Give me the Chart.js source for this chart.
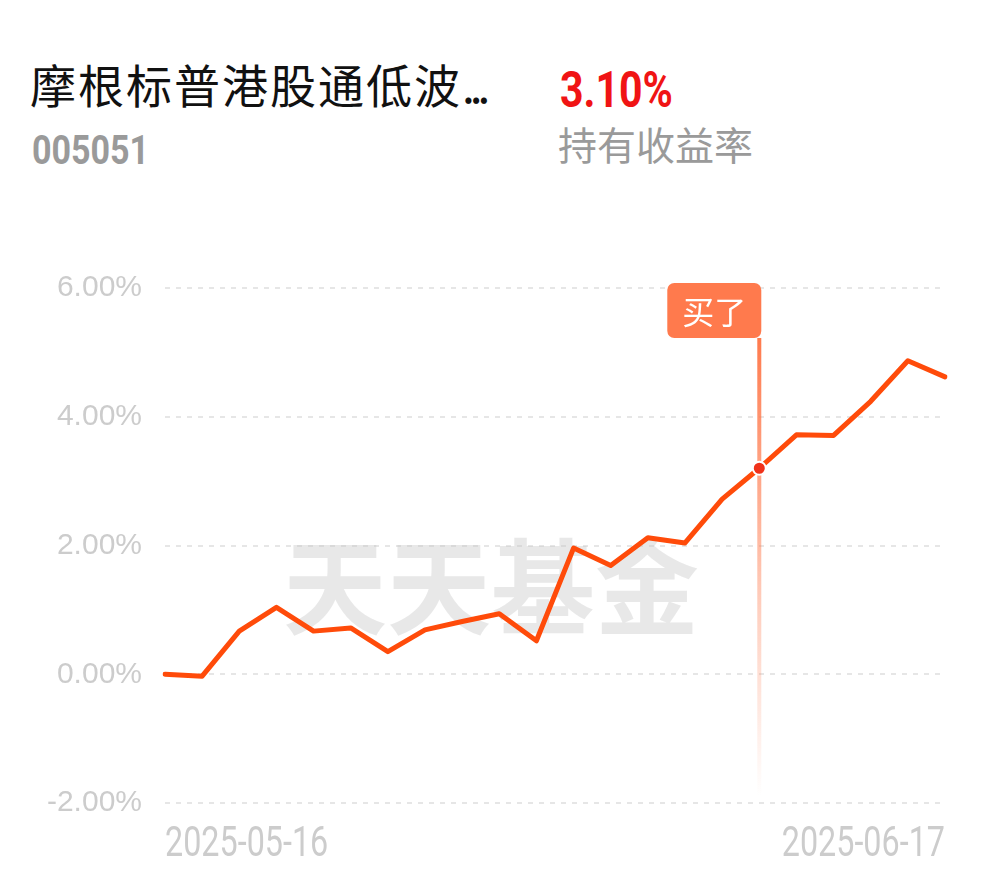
<!DOCTYPE html>
<html>
<head>
<meta charset="utf-8">
<script src="https://cdn.jsdelivr.net/npm/chart.js@4.4.1/dist/chart.umd.min.js"></script>
<style>
  html, body { margin: 0; padding: 0; background: #fff; }
  body { width: 990px; height: 878px; position: relative; overflow: hidden; }
  .t { position: absolute; white-space: nowrap; line-height: 1; transform-origin: 0 0; }
  #name { left: 30px; top: 50px; font: 400 46px 'Noto Sans CJK SC', sans-serif; color: #111; letter-spacing: 2px; }
  #name .dots { letter-spacing: -5px; }
  #ret { left: 560px; top: 61px; font: 700 50px Roboto, sans-serif; color: #f01414; transform: scaleX(0.82); }
  #code { left: 32px; top: 126px; font: 700 41px Roboto, sans-serif; color: #9a9a9a; transform: scaleX(0.83); }
  #retlbl { left: 558px; top: 115px; font: 400 39px 'Noto Sans CJK SC', sans-serif; color: #9a9a9a; }
  #c { position: absolute; left: 0; top: 200px; }
</style>
</head>
<body>
<div class="t" id="name">摩根标普港股通低波<span class="dots">...</span></div>
<div class="t" id="ret">3.10%</div>
<div class="t" id="code">005051</div>
<div class="t" id="retlbl">持有收益率</div>
<canvas id="c" width="990" height="678"></canvas>
<script>
const dates = ['2025-05-16','2025-05-19','2025-05-20','2025-05-21','2025-05-22','2025-05-23',
  '2025-05-26','2025-05-27','2025-05-28','2025-05-29','2025-05-30','2025-06-03','2025-06-04',
  '2025-06-05','2025-06-06','2025-06-09','2025-06-10','2025-06-11','2025-06-12','2025-06-13',
  '2025-06-16','2025-06-17'];
const returns = [0.00, -0.03, 0.67, 1.04, 0.67, 0.72, 0.35, 0.69, 0.82, 0.94, 0.52, 1.96, 1.69,
  2.12, 2.04, 2.72, 3.20, 3.72, 3.71, 4.24, 4.87, 4.62];
const yTicks = [-2, 0, 2, 4, 6];
const buyDate = '2025-06-10';
const buyLabel = '买了';
const watermark = '天天基金';

const buyIndex = dates.indexOf(buyDate);
const BOX = '#ff7a4d';

const markerPlugin = {
  id: 'marker',
  beforeDatasetsDraw(chart) {
    const { ctx, chartArea, scales } = chart;
    // watermark
    ctx.save();
    ctx.font = "700 104px 'Noto Sans CJK SC', sans-serif";
    ctx.fillStyle = 'rgba(200,200,200,0.42)';
    ctx.textAlign = 'left';
    ctx.textBaseline = 'middle';
    ctx.fillText(watermark, chartArea.left + 118, scales.y.getPixelForValue(1.35));
    ctx.restore();
    // vertical buy line
    const px = scales.x.getPixelForValue(buyIndex);
    const top = chartArea.top + 50;
    const bottom = chartArea.bottom - 7;
    ctx.save();
    const g = ctx.createLinearGradient(0, top, 0, bottom);
    g.addColorStop(0, 'rgba(255,122,77,1)');
    g.addColorStop(0.6, 'rgba(255,122,77,0.35)');
    g.addColorStop(1, 'rgba(255,122,77,0)');
    ctx.strokeStyle = g;
    ctx.lineWidth = 4;
    ctx.beginPath();
    ctx.moveTo(px, top);
    ctx.lineTo(px, bottom);
    ctx.stroke();
    // label box
    const bw = 94, bh = 55;
    const bx = px + 2 - bw, by = chartArea.top - 5;
    ctx.fillStyle = BOX;
    ctx.beginPath();
    ctx.roundRect(bx, by, bw, bh, 7);
    ctx.fill();
    ctx.fillStyle = '#fff';
    ctx.font = "400 32px 'Noto Sans CJK SC', sans-serif";
    ctx.textAlign = 'center';
    ctx.textBaseline = 'middle';
    ctx.fillText(buyLabel, bx + bw / 2, by + bh / 2 + 1);
    ctx.restore();
  },
  afterDraw(chart) {
    // condensed x tick labels, positioned by the category scale
    const { ctx, scales, chartArea } = chart;
    const xs = scales.x;
    ctx.save();
    ctx.font = "400 42px Roboto, sans-serif";
    ctx.fillStyle = '#cccccc';
    ctx.textBaseline = 'alphabetic';
    const last = xs.ticks.length - 1;
    xs.ticks.forEach((t, i) => {
      if (!t.label) return;
      const x = xs.getPixelForTick(i);
      ctx.save();
      ctx.translate(x, chartArea.bottom + 53);
      ctx.scale(0.77, 1);
      ctx.textAlign = i === last ? 'right' : 'left';
      ctx.fillText(t.label, 0, 0);
      ctx.restore();
    });
    ctx.restore();
  }
};

new Chart(document.getElementById('c'), {
  type: 'line',
  data: {
    labels: dates,
    datasets: [{
      data: returns,
      borderColor: '#ff4b0a',
      borderWidth: 5,
      tension: 0,
      borderJoinStyle: 'round',
      borderCapStyle: 'round',
      fill: false,
      pointRadius: returns.map((_, i) => i === buyIndex ? 6.5 : 0),
      pointHoverRadius: 0,
      pointBackgroundColor: '#f0321a',
      pointBorderColor: '#ffffff',
      pointBorderWidth: 2
    }]
  },
  options: {
    responsive: false,
    devicePixelRatio: 1,
    animation: false,
    events: [],
    layout: { padding: { top: 88, right: 45, left: 0, bottom: 0 } },
    plugins: { legend: { display: false }, tooltip: { enabled: false } },
    scales: {
      x: {
        grid: { display: false, drawTicks: false },
        border: { display: false },
        afterFit(s) { s.height = 75; },
        ticks: {
          autoSkip: false,
          maxRotation: 0,
          align: 'inner',
          padding: 16,
          color: 'rgba(0,0,0,0)',
          font: { family: 'Roboto', size: 30 },
          callback: (v, i, ticks) => (i === 0 || i === ticks.length - 1) ? dates[i] : ''
        }
      },
      y: {
        min: yTicks[0],
        max: yTicks[yTicks.length - 1],
        afterFit(s) { s.width = 165; },
        afterBuildTicks(s) { s.ticks = yTicks.map(v => ({ value: v })); },
        grid: { color: '#e6e6e6', lineWidth: 2, drawTicks: false },
        border: { display: false, dash: [5, 6] },
        ticks: {
          padding: 23,
          color: '#cccccc',
          font: { family: "'Liberation Sans', Arial, sans-serif", size: 30 },
          callback: v => v.toFixed(2) + '%'
        }
      }
    }
  },
  plugins: [markerPlugin]
});
</script>
</body>
</html>
